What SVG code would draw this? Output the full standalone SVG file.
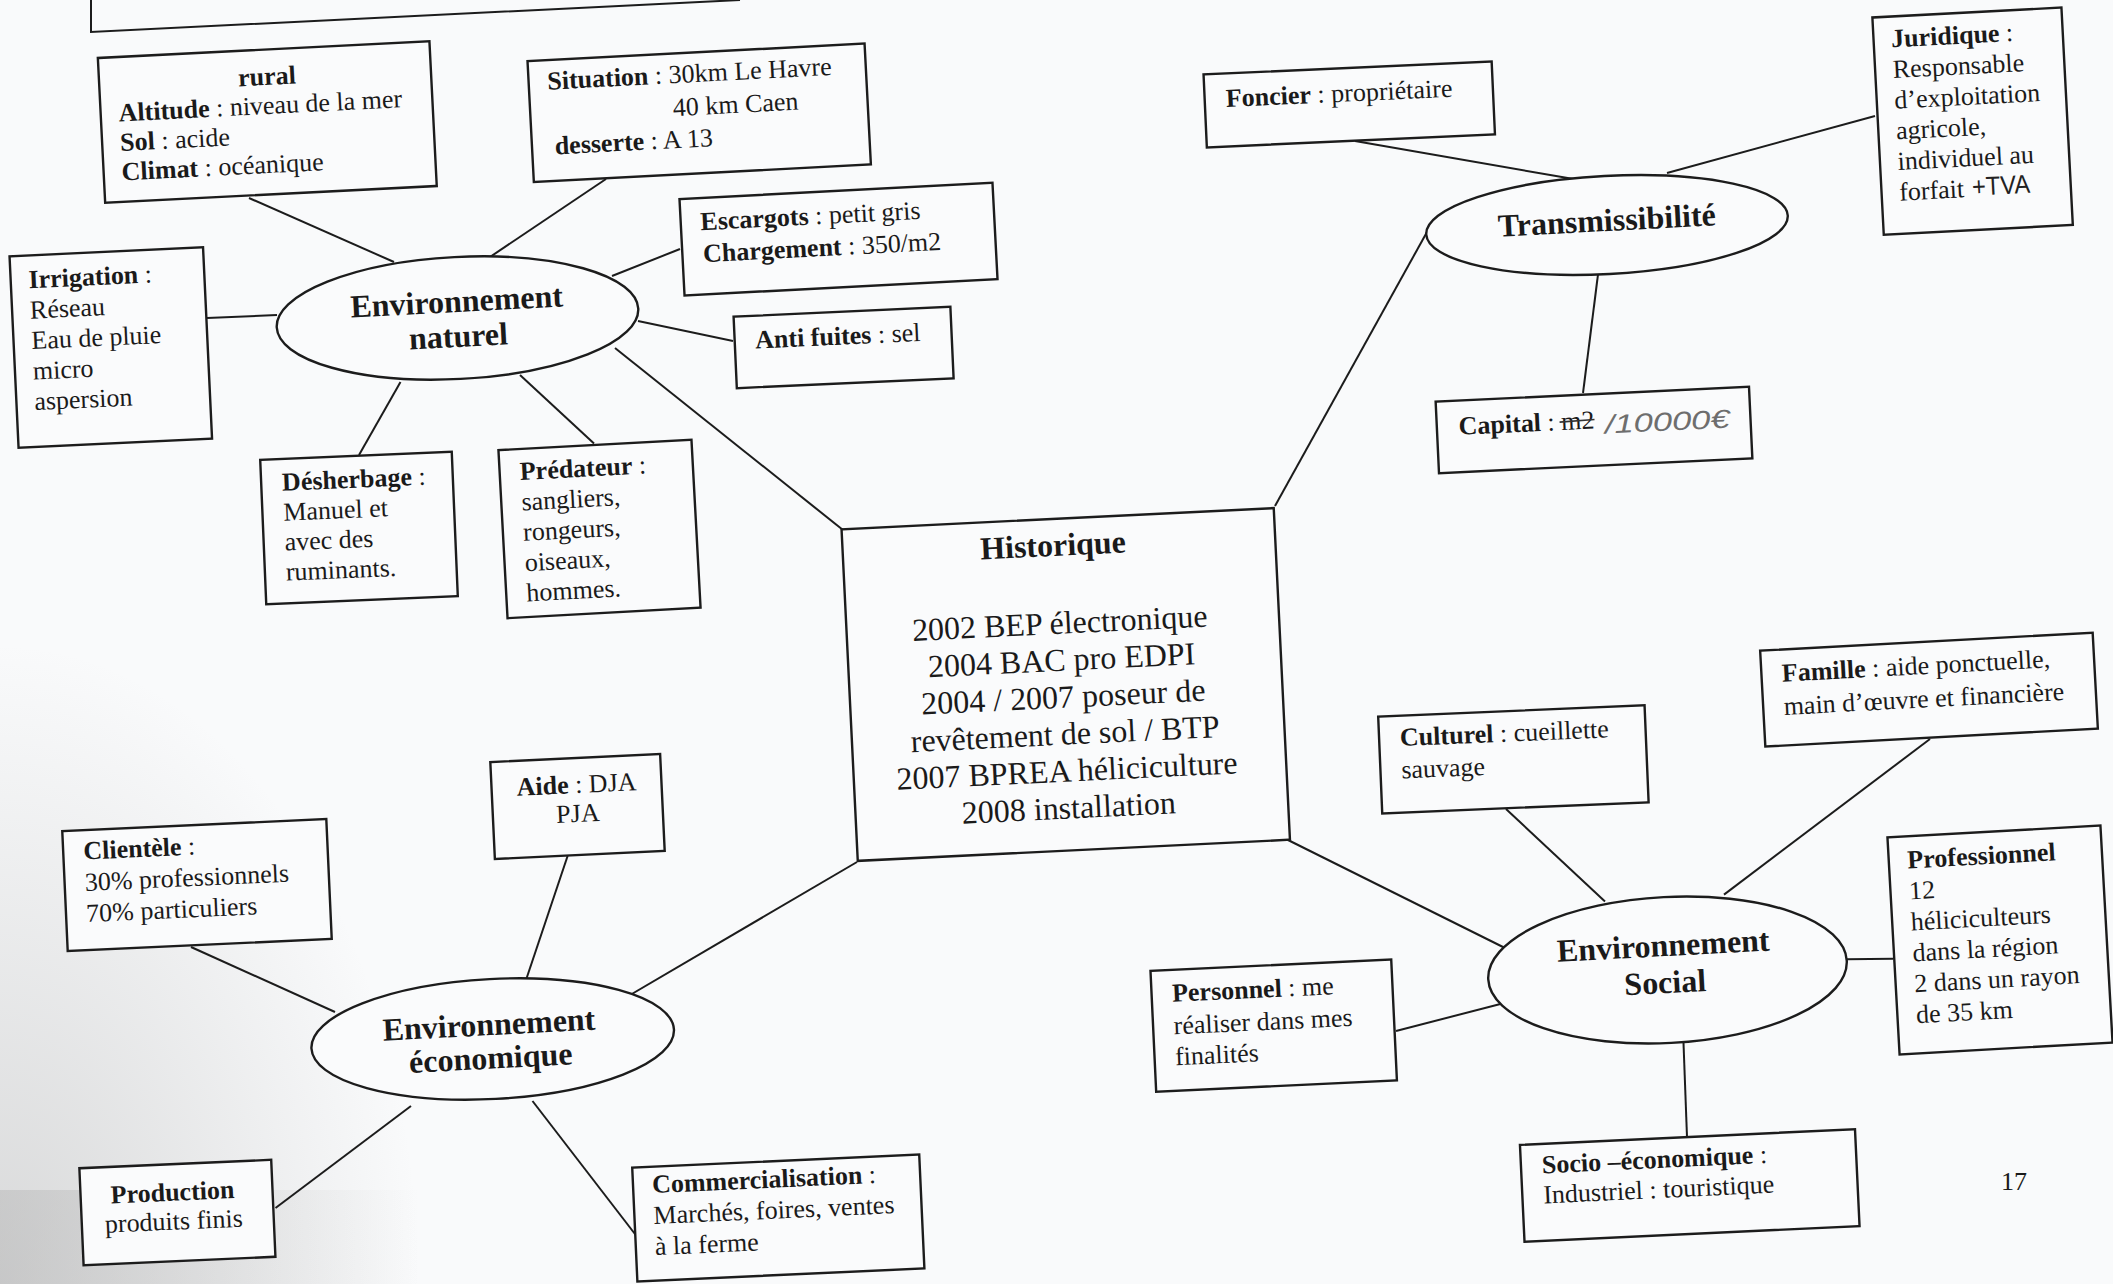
<svg xmlns="http://www.w3.org/2000/svg" width="2113" height="1284" viewBox="0 0 2113 1284">
  <style>
    .box { fill: #fafbfc; stroke: #1c1c1c; stroke-width: 2.4; }
    .ell { fill: #fafbfc; stroke: #1c1c1c; stroke-width: 2.4; }
    .conn line, .edge { stroke: #1c1c1c; stroke-width: 2; fill: none; }
    text { font-family: "Liberation Serif", "Times New Roman", serif; font-size: 26px; fill: #1a1a1a; }
    .b { font-weight: bold; }
    .mid { text-anchor: middle; }
    .big { font-size: 32px; }
    .hand { font-family: "Liberation Sans", Arial, sans-serif; fill: #222; }
    .pencil { font-family: "Liberation Sans", Arial, sans-serif; font-style: italic; fill: #6e6e6e; font-size: 26px; }
  </style>
  <defs>
    <radialGradient id="shade" cx="0" cy="1284" r="1" gradientUnits="userSpaceOnUse" gradientTransform="translate(0 1284) scale(420 640) translate(0 -1284)">
      <stop offset="0" stop-color="#9a9a9a" stop-opacity="0.35"/>
      <stop offset="1" stop-color="#9a9a9a" stop-opacity="0"/>
    </radialGradient>
    <linearGradient id="band" x1="0" y1="0" x2="1" y2="0">
      <stop offset="0" stop-color="#a8a8a8" stop-opacity="0.35"/>
      <stop offset="1" stop-color="#a8a8a8" stop-opacity="0"/>
    </linearGradient>
  </defs>

  <!-- paper -->
  <rect x="0" y="0" width="2113" height="1284" fill="#f9fafb"/>
  <rect x="0" y="0" width="2113" height="1284" fill="url(#shade)"/>
  <rect x="0" y="1190" width="420" height="94" fill="url(#band)"/>

  <!-- bottom corner of the frame above -->
  <polyline class="edge" points="91,0 91,32 740,0"/>

  <!-- connectors -->
  <g id="connectors" class="conn">
    <line x1="249" y1="198" x2="394" y2="262"/>
    <line x1="606" y1="179" x2="490" y2="257"/>
    <line x1="680" y1="249" x2="612" y2="276"/>
    <line x1="207" y1="318" x2="277" y2="315"/>
    <line x1="638" y1="321" x2="733" y2="341"/>
    <line x1="359" y1="455" x2="400.5" y2="382"/>
    <line x1="594" y1="443.6" x2="520" y2="375"/>
    <line x1="843" y1="530" x2="615" y2="348"/>
    <line x1="1355" y1="141" x2="1573.5" y2="179"/>
    <line x1="1875" y1="116" x2="1667" y2="173"/>
    <line x1="1598" y1="274.5" x2="1583" y2="393"/>
    <line x1="1275" y1="506" x2="1427" y2="232"/>
    <line x1="191" y1="947" x2="335" y2="1012"/>
    <line x1="567.6" y1="856" x2="526" y2="980"/>
    <line x1="857" y1="862" x2="625" y2="998"/>
    <line x1="411" y1="1106" x2="275.5" y2="1208"/>
    <line x1="532.5" y1="1101" x2="636.5" y2="1236"/>
    <line x1="1288" y1="840" x2="1511" y2="951"/>
    <line x1="1506" y1="809" x2="1605" y2="901.5"/>
    <line x1="1930" y1="739" x2="1724" y2="894.6"/>
    <line x1="1893" y1="958.7" x2="1846.7" y2="959.3"/>
    <line x1="1396" y1="1031" x2="1512" y2="1001"/>
    <line x1="1683.5" y1="1043" x2="1687" y2="1137"/>
  </g>

  <!-- Environnement naturel -->
  <g id="rural" transform="translate(267.3 122) rotate(-2.9)">
    <rect class="box" x="-166" y="-72.5" width="332" height="145"/>
    <text class="b mid" x="2" y="-37">rural</text>
    <text x="-148" y="-8"><tspan class="b">Altitude</tspan> : niveau de la mer</text>
    <text x="-148" y="21.5"><tspan class="b">Sol</tspan> : acide</text>
    <text x="-148" y="51"><tspan class="b">Climat</tspan> : océanique</text>
  </g>

  <g id="situation" transform="translate(699.2 112.8) rotate(-3)">
    <rect class="box" x="-168.75" y="-60.5" width="337.5" height="121"/>
    <text x="-150" y="-31"><tspan class="b">Situation</tspan> : 30km Le Havre</text>
    <text x="-26" y="2">40 km Caen</text>
    <text x="-146" y="34"><tspan class="b">desserte</tspan> : A 13</text>
  </g>

  <g id="escargots" transform="translate(838.5 239.1) rotate(-3)">
    <rect class="box" x="-156.7" y="-48.25" width="313.4" height="96.5"/>
    <text x="-137" y="-16"><tspan class="b">Escargots</tspan> : petit gris</text>
    <text x="-136" y="16"><tspan class="b">Chargement</tspan> : 350/m2</text>
  </g>

  <g id="irrigation" transform="translate(110.8 347.4) rotate(-2.7)">
    <rect class="box" x="-96.85" y="-95.8" width="193.7" height="191.6"/>
    <text x="-79" y="-63"><tspan class="b">Irrigation</tspan> :</text>
    <text x="-79" y="-32.5">Réseau</text>
    <text x="-79" y="-2">Eau de pluie</text>
    <text x="-79" y="28.5">micro</text>
    <text x="-79" y="59">aspersion</text>
  </g>

  <g id="env-naturel" transform="translate(457.5 318) rotate(-3)">
    <ellipse class="ell" cx="0" cy="0" rx="181" ry="61"/>
    <text class="b mid big" x="0" y="-6">Environnement</text>
    <text class="b mid big" x="0" y="29">naturel</text>
  </g>

  <g id="anti-fuites" transform="translate(843.6 347.5) rotate(-2.6)">
    <rect class="box" x="-108.5" y="-35.75" width="217" height="71.5"/>
    <text x="-88" y="-3"><tspan class="b">Anti fuites</tspan> : sel</text>
  </g>

  <g id="desherbage" transform="translate(359 528) rotate(-2.4)">
    <rect class="box" x="-95.85" y="-72.25" width="191.7" height="144.5"/>
    <text x="-75" y="-40.5"><tspan class="b">Désherbage</tspan> :</text>
    <text x="-75" y="-10.5">Manuel et</text>
    <text x="-75" y="19.5">avec des</text>
    <text x="-75" y="49.5">ruminants.</text>
  </g>

  <g id="predateur" transform="translate(599.5 528.9) rotate(-3.1)">
    <rect class="box" x="-96.65" y="-84.15" width="193.3" height="168.3"/>
    <text x="-76.5" y="-53"><tspan class="b">Prédateur</tspan> :</text>
    <text x="-76.5" y="-22.6">sangliers,</text>
    <text x="-76.5" y="7.8">rongeurs,</text>
    <text x="-76.5" y="38.2">oiseaux,</text>
    <text x="-76.5" y="68.6">hommes.</text>
  </g>

  <!-- centre -->
  <g id="historique" transform="translate(1065.75 684.5) rotate(-2.8)">
    <rect class="box" x="-216.35" y="-166" width="432.7" height="332"/>
    <text class="b mid big" x="-6" y="-129">Historique</text>
    <text class="mid big" x="-3" y="-51">2002 BEP électronique</text>
    <text class="mid big" x="-3" y="-14">2004 BAC pro EDPI</text>
    <text class="mid big" x="-3" y="23">2004 / 2007 poseur de</text>
    <text class="mid big" x="-3" y="60">revêtement de sol / BTP</text>
    <text class="mid big" x="-3" y="97">2007 BPREA héliciculture</text>
    <text class="mid big" x="-3" y="134">2008 installation</text>
  </g>

  <!-- Transmissibilité -->
  <g id="transmissibilite" transform="translate(1607 225) rotate(-3)">
    <ellipse class="ell" cx="0" cy="0" rx="181" ry="49"/>
    <text class="b mid big" x="0" y="6">Transmissibilité</text>
  </g>

  <g id="foncier" transform="translate(1349.25 104.4) rotate(-2.6)">
    <rect class="box" x="-144.2" y="-36.5" width="288.4" height="73"/>
    <text x="-123" y="-3"><tspan class="b">Foncier</tspan> : propriétaire</text>
  </g>

  <g id="juridique" transform="translate(1972.6 121.2) rotate(-3)">
    <rect class="box" x="-94.65" y="-108.8" width="189.3" height="217.6"/>
    <text x="-77" y="-78"><tspan class="b">Juridique</tspan> :</text>
    <text x="-77" y="-47.3">Responsable</text>
    <text x="-77" y="-16.6">d’exploitation</text>
    <text x="-77" y="14.1">agricole,</text>
    <text x="-77" y="44.8">individuel au</text>
    <text x="-77" y="75.5">forfait</text>
    <text class="hand" x="-4" y="74.5" font-size="20" textLength="58" lengthAdjust="spacingAndGlyphs">+TVA</text>
  </g>

  <g id="capital" transform="translate(1594 430) rotate(-2.7)">
    <rect class="box" x="-156.85" y="-35.8" width="313.7" height="71.6"/>
    <text x="-135" y="-1.5"><tspan class="b">Capital</tspan> : m2</text>
    <line x1="-34" y1="-9.5" x2="1" y2="-10.5" stroke="#333" stroke-width="1.6"/>
    <text class="pencil" x="11" y="4" textLength="125" lengthAdjust="spacingAndGlyphs">/10000€</text>
  </g>

  <!-- Environnement économique -->
  <g id="clientele" transform="translate(197 885) rotate(-2.6)">
    <rect class="box" x="-132.15" y="-60" width="264.3" height="120"/>
    <text x="-112" y="-30.5"><tspan class="b">Clientèle</tspan> :</text>
    <text x="-112" y="0.8">30% professionnels</text>
    <text x="-112" y="32">70% particuliers</text>
  </g>

  <g id="aide" transform="translate(577.5 806.5) rotate(-2.7)">
    <rect class="box" x="-85" y="-48.5" width="170" height="97"/>
    <text class="mid" x="0" y="-13.5"><tspan class="b">Aide</tspan> : DJA</text>
    <text class="mid" x="0" y="15.5">PJA</text>
  </g>

  <g id="env-economique" transform="translate(492.7 1039) rotate(-3)">
    <ellipse class="ell" cx="0" cy="0" rx="181.5" ry="60"/>
    <text class="b mid big" x="-3" y="-4">Environnement</text>
    <text class="b mid big" x="-3" y="29.5">économique</text>
  </g>

  <g id="production" transform="translate(177.4 1212.5) rotate(-2.5)">
    <rect class="box" x="-96" y="-48.5" width="192" height="97"/>
    <text class="b mid" x="-4" y="-12">Production</text>
    <text class="mid" x="-4" y="17">produits finis</text>
  </g>

  <g id="commercialisation" transform="translate(778.3 1218) rotate(-2.6)">
    <rect class="box" x="-143.65" y="-57" width="287.3" height="114"/>
    <text x="-124.6" y="-30.6"><tspan class="b">Commercialisation</tspan> :</text>
    <text x="-124.6" y="0.4">Marchés, foires, ventes</text>
    <text x="-124.6" y="31.5">à la ferme</text>
  </g>

  <!-- Environnement social -->
  <g id="culturel" transform="translate(1513.4 759.4) rotate(-2.4)">
    <rect class="box" x="-133.3" y="-48.5" width="266.6" height="97"/>
    <text x="-112.4" y="-18"><tspan class="b">Culturel</tspan> : cueillette</text>
    <text x="-112.4" y="14.4">sauvage</text>
  </g>

  <g id="famille" transform="translate(1929 689.6) rotate(-3.1)">
    <rect class="box" x="-166.5" y="-48" width="333" height="96"/>
    <text x="-146" y="-15.8"><tspan class="b">Famille</tspan> : aide ponctuelle,</text>
    <text x="-146" y="17.5">main d’œuvre et financière</text>
  </g>

  <g id="professionnel" transform="translate(2000 940) rotate(-3.2)">
    <rect class="box" x="-106.65" y="-108.65" width="213.3" height="217.3"/>
    <text class="b" x="-88" y="-76.5">Professionnel</text>
    <text x="-88" y="-45.5">12</text>
    <text x="-88" y="-14.5">héliciculteurs</text>
    <text x="-88" y="16.5">dans la région</text>
    <text x="-88" y="47.5">2 dans un rayon</text>
    <text x="-88" y="78.5">de 35 km</text>
  </g>

  <g id="env-social" transform="translate(1667.5 970) rotate(-3)">
    <ellipse class="ell" cx="0" cy="0" rx="179.5" ry="73"/>
    <text class="b mid big" x="-3" y="-14">Environnement</text>
    <text class="b mid big" x="-3" y="23">Social</text>
  </g>

  <g id="personnel" transform="translate(1273.7 1025.6) rotate(-2.7)">
    <rect class="box" x="-120.5" y="-60.5" width="241" height="121"/>
    <text x="-100" y="-28.5"><tspan class="b">Personnel</tspan> : me</text>
    <text x="-100" y="4">réaliser dans mes</text>
    <text x="-100" y="35">finalités</text>
  </g>

  <g id="socio-economique" transform="translate(1689.75 1185.5) rotate(-2.7)">
    <rect class="box" x="-167.7" y="-48.5" width="335.4" height="97"/>
    <text x="-146.75" y="-19"><tspan class="b">Socio –économique</tspan> :</text>
    <text x="-146.75" y="11">Industriel : touristique</text>
  </g>

  <!-- page number -->
  <text x="2001" y="1190" font-size="27">17</text>
</svg>
